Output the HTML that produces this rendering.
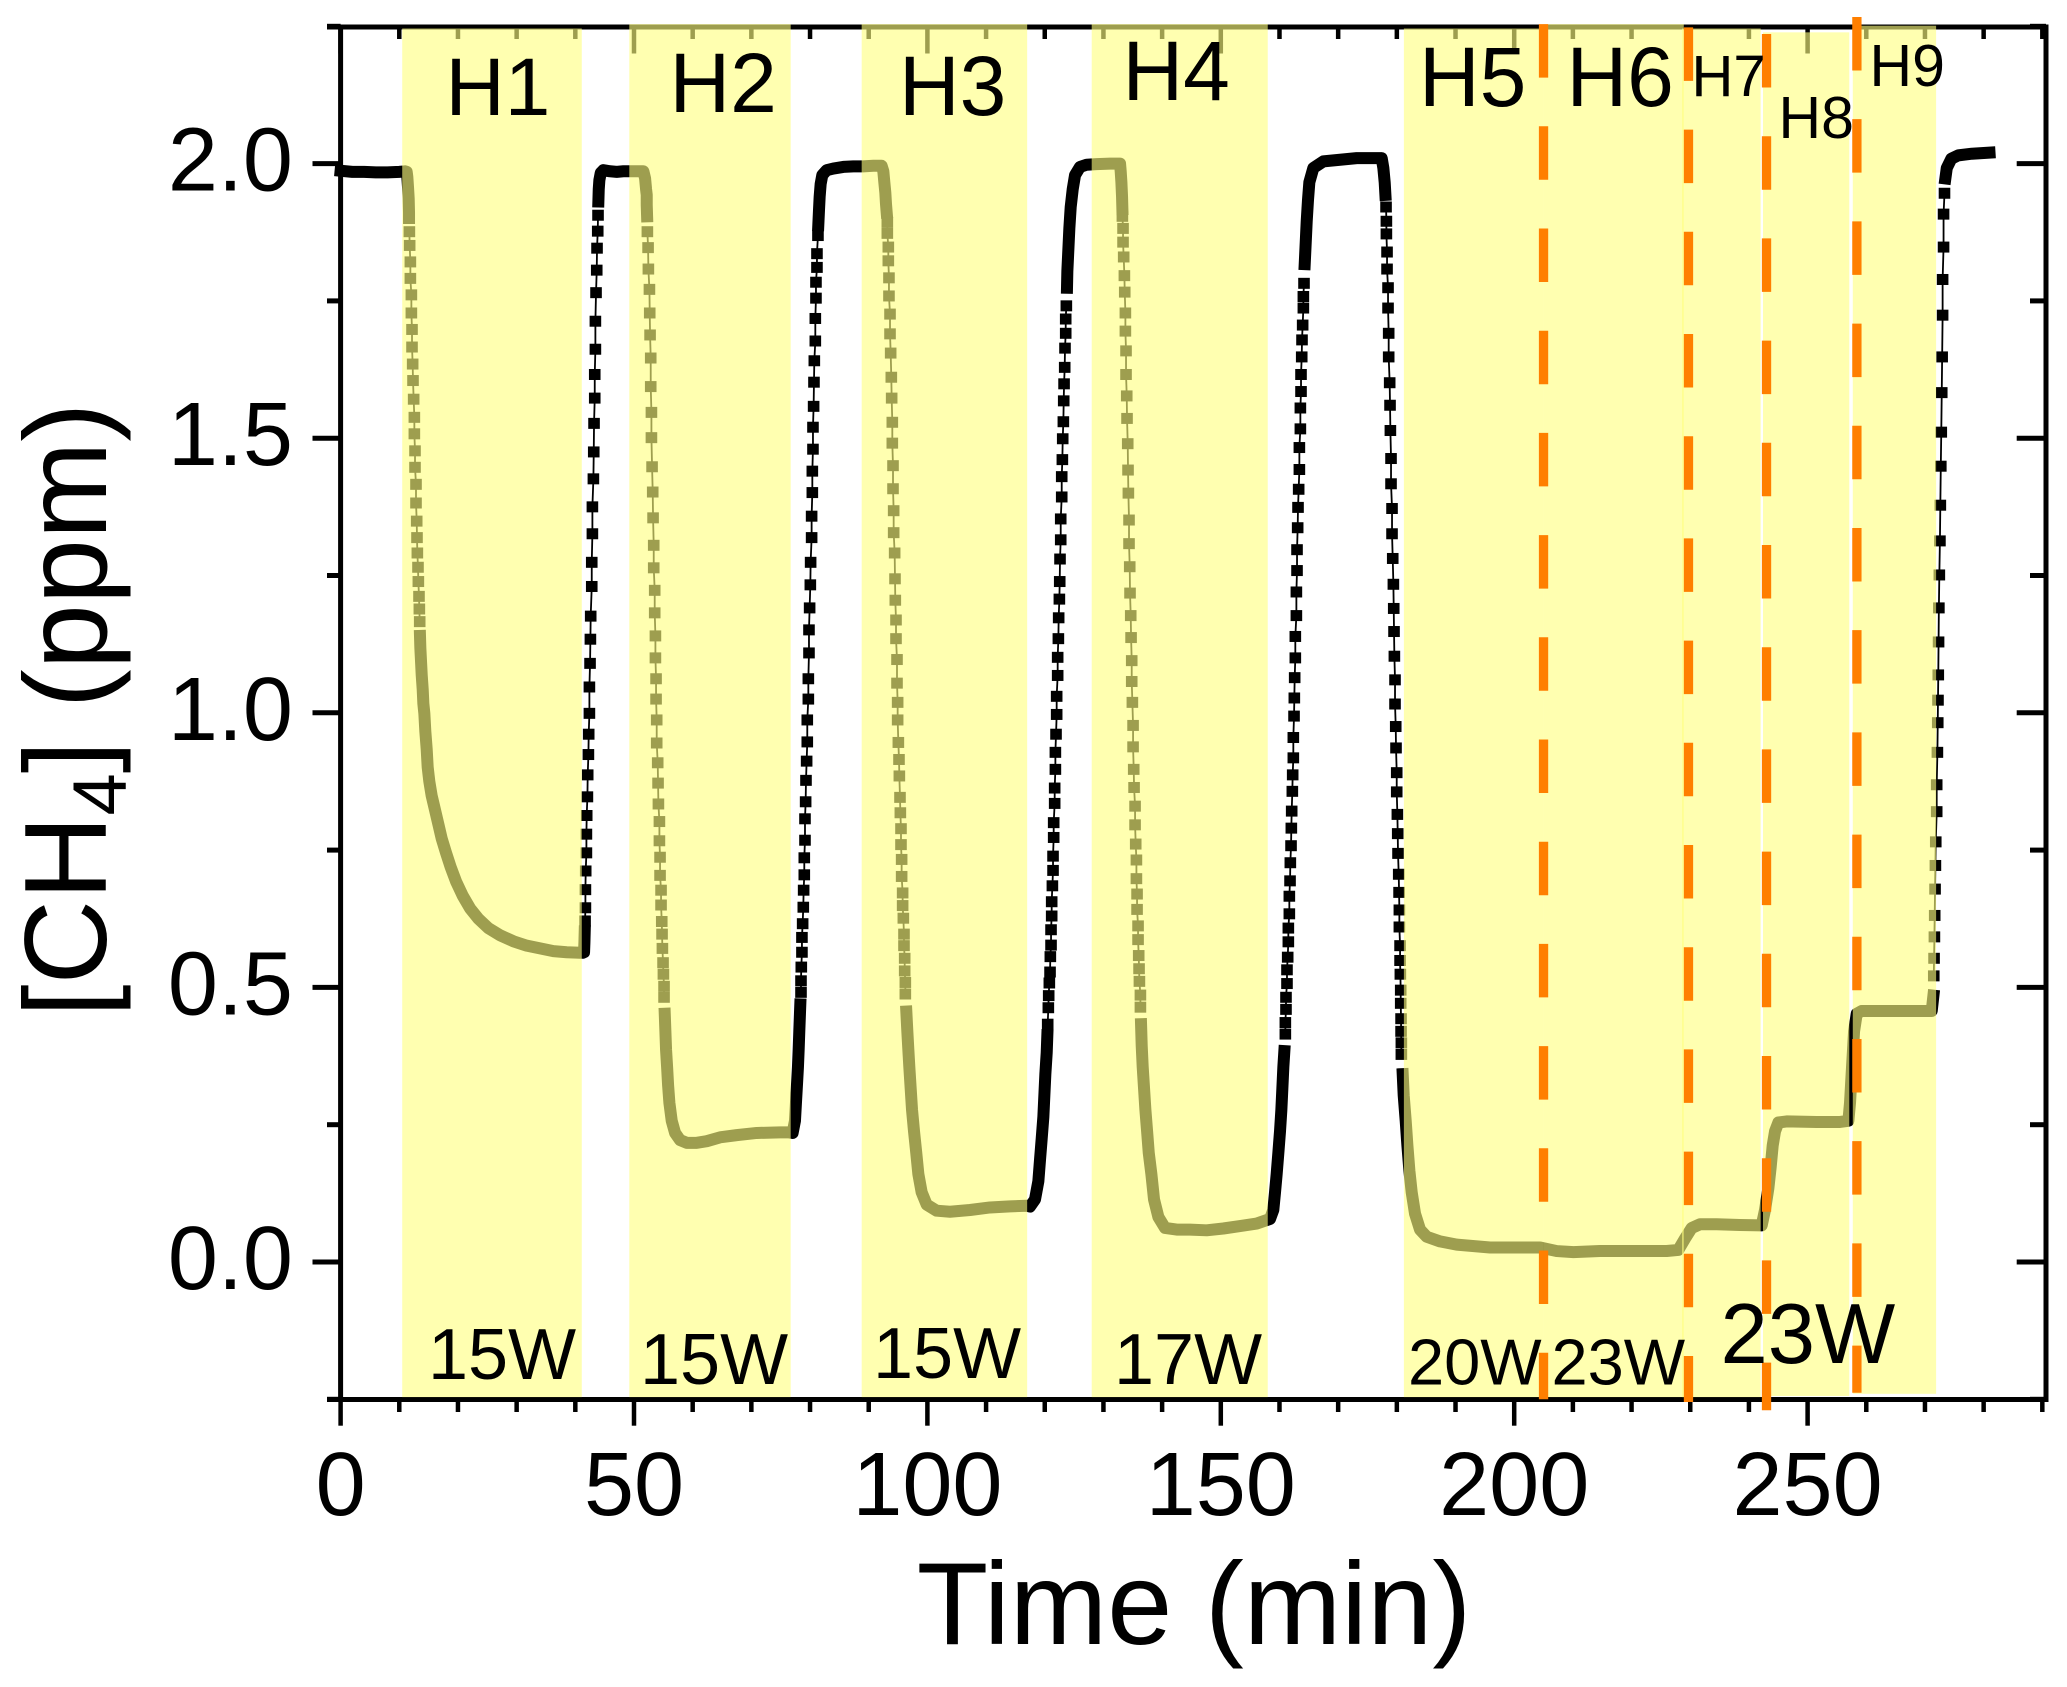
<!DOCTYPE html>
<html lang="en">
<head>
<meta charset="utf-8">
<title>Methane concentration versus time</title>
<style>
html,body{margin:0;padding:0;background:#fff;width:2067px;height:1687px;overflow:hidden}
svg{display:block}
text{font-family:"Liberation Sans",Arial,sans-serif;fill:#000}
</style>
</head>
<body>
<svg id="chart" xmlns="http://www.w3.org/2000/svg" width="2067" height="1687" viewBox="0 0 2067 1687">
  <rect x="0" y="0" width="2067" height="1687" fill="#fff"/>
  <g id="axes"></g>
  <g id="series"></g>
  <g id="bands"></g>
  <g id="dividers"></g>
  <g id="ticklabels"></g>

  <text x="1194" y="1644" font-size="117" text-anchor="middle">Time (min)</text>
  <text transform="translate(106,1017) rotate(-90)" font-size="117">[CH<tspan font-size="76" dy="20">4</tspan><tspan dy="-20">] (ppm)</tspan></text>

  <g>
    <text x="445.5" y="115" font-size="82">H1</text>
    <text x="669.5" y="112" font-size="84">H2</text>
    <text x="899" y="115" font-size="84">H3</text>
    <text x="1122.5" y="100" font-size="84">H4</text>
    <text x="1419" y="106" font-size="84">H5</text>
    <text x="1566.5" y="106" font-size="84">H6</text>
    <text x="1691.5" y="96" font-size="58">H7</text>
    <text x="1778.5" y="138" font-size="59">H8</text>
    <text x="1869.5" y="86" font-size="59">H9</text>
  </g>
  <g>
    <text x="428" y="1379" font-size="72">15W</text>
    <text x="640" y="1384" font-size="72">15W</text>
    <text x="873" y="1378" font-size="72">15W</text>
    <text x="1114" y="1384" font-size="72">17W</text>
    <text x="1408" y="1384.5" font-size="65">20W</text>
    <text x="1551.5" y="1384.5" font-size="65">23W</text>
    <text x="1720.5" y="1363" font-size="85">23W</text>
  </g>
</svg>
<script>
// ---- tick values ----
const xMajorTicks = [0, 50, 100, 150, 200, 250];
const xMinorTicks = [10, 20, 30, 40, 60, 70, 80, 90, 110, 120, 130, 140, 160, 170, 180, 190, 210, 220, 230, 240, 260, 270, 280, 290];
const yMajorTicks = [0, 0.5, 1, 1.5, 2];
const yMinorTicks = [-0.25, 0.25, 0.75, 1.25, 1.75, 2.25];
const xTickLabels = ['0', '50', '100', '150', '200', '250'];
const yTickLabels = ['0.0', '0.5', '1.0', '1.5', '2.0'];

// ---- measured series, [time min, CH4 ppm] ----
// "band" runs: samples so close that the markers merge into a solid stroke
// "dots" runs: samples whose square markers are separately visible
const band0 = [[0,1.987],[2,1.985],[4,1.985],[6,1.984],[8,1.984],[10,1.985],[10.98,1.986],[11.26,1.985],[11.37,1.976],[11.49,1.957],[11.6,1.937],[11.66,1.911],[11.66,1.901]];
const dots0 = [[11.72,1.876],[11.77,1.851],[11.89,1.821],[11.89,1.791],[12.06,1.761],[12.06,1.728],[12.17,1.698],[12.17,1.666],[12.28,1.635],[12.34,1.605],[12.45,1.571],[12.57,1.538],[12.57,1.508],[12.68,1.477],[12.68,1.447],[12.85,1.416],[12.85,1.382],[12.97,1.349],[13.02,1.319],[13.08,1.291],[13.19,1.265],[13.25,1.239],[13.36,1.212],[13.42,1.189],[13.48,1.166]];
const band1 = [[13.53,1.14],[13.59,1.118],[13.7,1.095],[13.82,1.069],[13.99,1.043],[14.1,1.017],[14.27,0.999],[14.44,0.966],[14.67,0.934],[14.84,0.901],[15.12,0.875],[15.52,0.849],[16.09,0.823],[16.66,0.797],[17.23,0.771],[17.97,0.745],[18.76,0.719],[19.67,0.693],[20.81,0.667],[22.06,0.644],[23.48,0.625],[25.18,0.608],[27.17,0.595],[29.44,0.584],[31.72,0.576],[33.99,0.571],[36.26,0.566],[38.53,0.564],[40.8,0.563],[41.26,0.563],[41.49,0.564],[41.55,0.582],[41.6,0.602]];
const dots1 = [[41.66,0.621],[41.72,0.645],[41.72,0.678],[41.77,0.712],[41.89,0.745],[41.89,0.779],[41.94,0.813],[42.06,0.847],[42.11,0.887],[42.23,0.924],[42.28,0.961],[42.4,0.999],[42.4,1.047],[42.51,1.09],[42.57,1.134],[42.62,1.176],[42.8,1.23],[42.8,1.274],[42.91,1.326],[42.91,1.375],[43.08,1.426],[43.14,1.475],[43.19,1.527],[43.31,1.573],[43.31,1.616],[43.42,1.662],[43.42,1.713],[43.53,1.765],[43.65,1.806],[43.7,1.846],[43.82,1.877],[43.87,1.906]];
const band2 = [[43.93,1.931],[43.99,1.953],[44.1,1.97],[44.33,1.983],[44.78,1.988],[45.92,1.986],[47.06,1.985],[48.19,1.986],[49.9,1.986],[51.6,1.986],[51.89,1.973],[52.06,1.953],[52.17,1.943],[52.17,1.925],[52.23,1.904]];
const dots2 = [[52.28,1.876],[52.4,1.847],[52.45,1.808],[52.63,1.771],[52.68,1.728],[52.74,1.688],[52.85,1.646],[52.85,1.594],[52.97,1.547],[52.97,1.501],[53.08,1.448],[53.19,1.402],[53.25,1.355],[53.36,1.305],[53.36,1.264],[53.53,1.223],[53.53,1.182],[53.65,1.14],[53.65,1.1],[53.76,1.062],[53.76,1.025],[53.87,0.987],[53.87,0.945],[54.04,0.909],[54.1,0.872],[54.16,0.834],[54.33,0.802],[54.33,0.767],[54.44,0.737],[54.44,0.704],[54.61,0.677],[54.61,0.65],[54.73,0.62],[54.78,0.597],[54.84,0.571],[54.95,0.545],[55.01,0.524],[55.12,0.502],[55.12,0.482]];
const band3 = [[55.24,0.452],[55.35,0.42],[55.46,0.387],[55.64,0.355],[55.81,0.322],[56.03,0.29],[56.43,0.257],[57,0.235],[57.85,0.222],[58.99,0.217],[60.69,0.217],[62.4,0.22],[64.67,0.227],[67.51,0.231],[70.92,0.235],[74.9,0.236],[76.43,0.236],[77.03,0.235],[77.43,0.257],[77.6,0.29],[77.77,0.322],[77.94,0.355],[78.06,0.387],[78.17,0.42],[78.28,0.452],[78.34,0.469]];
const dots3 = [[78.46,0.491],[78.46,0.512],[78.51,0.537],[78.62,0.564],[78.62,0.591],[78.74,0.616],[78.85,0.646],[78.91,0.677],[79.02,0.705],[79.02,0.736],[79.14,0.768],[79.14,0.807],[79.25,0.838],[79.31,0.877],[79.42,0.912],[79.53,0.947],[79.53,0.987],[79.71,1.025],[79.71,1.062],[79.82,1.109],[79.82,1.151],[79.93,1.191],[80.05,1.233],[80.1,1.274],[80.27,1.319],[80.27,1.358],[80.39,1.401],[80.39,1.44],[80.5,1.48],[80.5,1.52],[80.61,1.558],[80.67,1.602],[80.73,1.641],[80.9,1.677],[80.9,1.718],[81.01,1.755],[81.01,1.784],[81.18,1.811],[81.18,1.836],[81.35,1.869]];
const band4 = [[81.41,1.888],[81.52,1.914],[81.64,1.94],[81.81,1.963],[82.09,1.979],[82.83,1.988],[83.97,1.991],[85.67,1.994],[87.38,1.995],[89.08,1.995],[90.78,1.996],[92.2,1.996],[92.49,1.986],[92.66,1.966],[92.83,1.947],[92.94,1.927],[93.06,1.911]];
const dots4 = [[93.17,1.893],[93.17,1.873],[93.34,1.848],[93.34,1.823],[93.45,1.792],[93.45,1.759],[93.63,1.726],[93.63,1.69],[93.74,1.655],[93.85,1.611],[93.91,1.573],[94.02,1.529],[94.02,1.491],[94.14,1.45],[94.14,1.408],[94.25,1.368],[94.25,1.328],[94.42,1.291],[94.48,1.244],[94.53,1.205],[94.65,1.169],[94.65,1.135],[94.82,1.097],[94.82,1.054],[94.93,1.019],[94.93,0.987],[95.05,0.946],[95.16,0.915],[95.22,0.885],[95.33,0.846],[95.39,0.818],[95.5,0.789],[95.5,0.76],[95.61,0.733],[95.61,0.702],[95.78,0.672],[95.78,0.649],[95.9,0.626],[96.01,0.597],[96.01,0.576],[96.13,0.553],[96.13,0.53],[96.24,0.509],[96.24,0.488]];
const band5 = [[96.41,0.456],[96.58,0.42],[96.75,0.387],[96.92,0.355],[97.15,0.316],[97.38,0.277],[97.72,0.238],[98.1,0.199],[98.46,0.16],[99.02,0.127],[99.88,0.1045],[101.58,0.0934],[103.85,0.0915],[107.26,0.0947],[110.67,0.0993],[114.08,0.1012],[116.92,0.1025],[117.49,0.101],[118.34,0.114],[118.91,0.147],[119.19,0.186],[119.48,0.225],[119.76,0.264],[119.93,0.303],[120.1,0.342],[120.33,0.381],[120.44,0.413]];
const dots5 = [[120.5,0.433],[120.61,0.463],[120.67,0.485],[120.78,0.508],[120.9,0.528],[120.95,0.556],[121.07,0.577],[121.07,0.605],[121.18,0.63],[121.18,0.656],[121.3,0.685],[121.41,0.713],[121.41,0.739],[121.52,0.773],[121.52,0.8],[121.69,0.835],[121.69,0.863],[121.81,0.897],[121.81,0.928],[121.92,0.961],[122.03,0.997],[122.03,1.03],[122.2,1.068],[122.2,1.101],[122.32,1.135],[122.37,1.173],[122.49,1.207],[122.55,1.239],[122.6,1.28],[122.72,1.315],[122.72,1.353],[122.89,1.393],[122.89,1.43],[123,1.461],[123.06,1.499],[123.17,1.53],[123.23,1.568],[123.29,1.599],[123.4,1.629],[123.45,1.664],[123.57,1.691],[123.57,1.717],[123.68,1.741]];
const band6 = [[123.79,1.774],[123.85,1.804],[124.02,1.843],[124.19,1.882],[124.42,1.921],[124.76,1.953],[125.16,1.979],[126.01,1.994],[127.15,1.998],[128.85,1.999],[131.13,2],[132.83,2],[132.94,1.986],[133.06,1.966],[133.17,1.94],[133.23,1.917]];
const dots6 = [[133.23,1.904],[133.34,1.882],[133.34,1.857],[133.45,1.83],[133.57,1.796],[133.63,1.766],[133.74,1.728],[133.74,1.695],[133.85,1.659],[133.85,1.616],[133.97,1.577],[134.02,1.536],[134.14,1.49],[134.19,1.442],[134.25,1.4],[134.36,1.351],[134.36,1.308],[134.48,1.266],[134.53,1.218],[134.65,1.177],[134.71,1.137],[134.82,1.095],[134.82,1.057],[134.93,1.019],[135.05,0.977],[135.05,0.938],[135.16,0.897],[135.22,0.864],[135.39,0.83],[135.39,0.796],[135.5,0.761],[135.62,0.732],[135.62,0.698],[135.73,0.67],[135.73,0.642],[135.9,0.612],[135.9,0.587],[136.01,0.558],[136.07,0.534],[136.13,0.511],[136.3,0.486],[136.3,0.464]];
const band7 = [[136.41,0.433],[136.52,0.394],[136.69,0.355],[136.92,0.316],[137.15,0.277],[137.44,0.238],[137.72,0.199],[138.17,0.16],[138.62,0.114],[139.36,0.082],[140.5,0.062],[142.49,0.059],[144.76,0.059],[147.59,0.0577],[150.43,0.061],[153.27,0.0654],[156.11,0.07],[157.53,0.0752],[158.39,0.0784],[158.95,0.0947],[159.24,0.127],[159.52,0.16],[159.81,0.199],[160.09,0.238],[160.32,0.277],[160.49,0.316],[160.66,0.355],[160.83,0.384]];
const dots7 = [[161,0.415],[161,0.436],[161.11,0.46],[161.11,0.482],[161.28,0.507],[161.28,0.532],[161.4,0.555],[161.51,0.583],[161.51,0.608],[161.68,0.634],[161.68,0.666],[161.8,0.694],[161.85,0.727],[161.97,0.758],[162.02,0.79],[162.08,0.821],[162.19,0.857],[162.25,0.887],[162.36,0.918],[162.36,0.955],[162.48,0.994],[162.53,1.027],[162.59,1.064],[162.7,1.1],[162.7,1.139],[162.88,1.177],[162.88,1.22],[162.99,1.259],[162.99,1.297],[163.1,1.337],[163.16,1.374],[163.27,1.407],[163.39,1.443],[163.39,1.483],[163.56,1.517],[163.56,1.555],[163.67,1.585],[163.67,1.616],[163.79,1.648],[163.84,1.679],[163.95,1.706],[164.07,1.737],[164.07,1.758],[164.18,1.782]];
const band8 = [[164.3,1.817],[164.47,1.856],[164.64,1.895],[164.86,1.934],[165.09,1.966],[165.77,1.992],[167.48,2.004],[170.32,2.007],[173.16,2.01],[176,2.01],[177.42,2.01],[177.7,1.992],[177.93,1.966],[178.05,1.943]];
const dots8 = [[178.16,1.921],[178.22,1.895],[178.22,1.872],[178.33,1.839],[178.33,1.808],[178.5,1.774],[178.5,1.737],[178.61,1.691],[178.61,1.648],[178.78,1.601],[178.84,1.56],[178.9,1.514],[179.01,1.463],[179.01,1.417],[179.18,1.372],[179.18,1.326],[179.3,1.281],[179.41,1.234],[179.47,1.19],[179.52,1.148],[179.58,1.103],[179.69,1.06],[179.69,1.016],[179.81,0.975],[179.86,0.936],[179.98,0.891],[179.98,0.856],[180.09,0.815],[180.15,0.78],[180.2,0.744],[180.32,0.706],[180.38,0.673],[180.43,0.641],[180.43,0.61],[180.55,0.576],[180.55,0.549],[180.6,0.524],[180.66,0.495],[180.66,0.471],[180.72,0.443],[180.72,0.42],[180.77,0.399],[180.77,0.378]];
const band9 = [[181,0.342],[181.17,0.303],[181.51,0.257],[181.8,0.212],[182.14,0.166],[182.53,0.127],[183.1,0.088],[183.95,0.059],[185.09,0.046],[187.36,0.0375],[190.2,0.0316],[195.88,0.0264],[201.57,0.0264],[204.41,0.0264],[207.25,0.0199],[210.09,0.018],[214.62,0.02],[220.3,0.02],[225.98,0.02],[227.97,0.022],[229.11,0.0427],[230.25,0.062],[231.67,0.0687],[234.51,0.0687],[238.48,0.0674],[242.18,0.0667],[242.74,0.0947],[243.31,0.134],[243.71,0.173],[244.05,0.212],[244.45,0.238],[245.02,0.254],[246.44,0.256],[251.55,0.255],[255.53,0.255],[256.95,0.257],[257.23,0.29],[257.57,0.355],[257.92,0.42],[258.37,0.452],[259.22,0.457],[262.92,0.457],[266.89,0.457],[270.59,0.457],[271.15,0.457],[271.44,0.485]];
const dots9 = [[271.5,0.521],[271.55,0.553],[271.61,0.592],[271.66,0.631],[271.72,0.679],[271.78,0.722],[271.84,0.765],[272,0.82],[272,0.869],[272.12,0.928],[272.18,0.982],[272.22,1.023],[272.27,1.069],[272.32,1.129],[272.37,1.191],[272.45,1.251],[272.55,1.313],[272.62,1.378],[272.7,1.449],[272.78,1.511],[272.86,1.583],[272.93,1.648],[273.01,1.724],[273.01,1.789],[273.17,1.848],[273.17,1.908],[273.33,1.946]];
const band10 = [[273.48,1.973],[273.72,1.992],[274.5,2.009],[275.67,2.015],[278,2.018],[281,2.02]];

const bandRuns = [band0, band1, band2, band3, band4, band5, band6, band7, band8, band9, band10];
const dotRuns = [dots0, dots1, dots2, dots3, dots4, dots5, dots6, dots7, dots8, dots9];

// ---- heating windows: names and their start / end times (min) ----
const bandNames = ['h1', 'h2', 'h3', 'h4', 'h5', 'h6', 'h7', 'h8', 'h9'];
const bandStart = [10.5, 49.2, 88.8, 128, 181.2, 205, 228.6, 242.4, 257.7];
const bandEnd = [41.1, 76.7, 117, 158, 205, 228.9, 242, 257.1, 271.9];
const bandTopPpm = [2.246, 2.254, 2.254, 2.254, 2.246, 2.254, 2.246, 2.239, 2.251];
const bandBottomPpm = [-0.246, -0.246, -0.246, -0.246, -0.246, -0.246, -0.246, -0.244, -0.24];

// ---- orange dividers: time (min), top and bottom (ppm) ----
const dividerTimes = [205, 229.7, 243, 258.4];
const dividerTopPpm = [2.254, 2.248, 2.236, 2.267];
const dividerBottomPpm = [-0.25, -0.255, -0.27, -0.238];

// ---- axis functions ----
const SVGNS = 'http://www.w3.org/2000/svg';
function xAt(t) { return 340.6 + t * 5.868; }
function yAt(v) { return 1262 - v * 549.2; }
function mk(tag, attrs, parent) {
  const node = document.createElementNS(SVGNS, tag);
  Object.keys(attrs).forEach(function (k) { node.setAttribute(k, attrs[k]); });
  parent.appendChild(node);
  return node;
}

const axesG = document.getElementById('axes');
const seriesG = document.getElementById('series');
const bandsG = document.getElementById('bands');
const dividersG = document.getElementById('dividers');
const labelsG = document.getElementById('ticklabels');

const AXIS_LEFT = 340.6, AXIS_RIGHT = 2046, AXIS_TOP = 27, AXIS_BOTTOM = 1399.5;

// axis frame
[[AXIS_LEFT, AXIS_TOP, AXIS_LEFT, AXIS_BOTTOM, 'y-axis-left'],
 [AXIS_RIGHT, AXIS_TOP - 2.5, AXIS_RIGHT, AXIS_BOTTOM + 2.5, 'y-axis-right'],
 [327, AXIS_TOP, AXIS_RIGHT + 2, AXIS_TOP, 'x-axis-top'],
 [327, AXIS_BOTTOM, AXIS_RIGHT + 2, AXIS_BOTTOM, 'x-axis-bottom']].forEach(function (s) {
  const el = mk('line', {x1: s[0], y1: s[1], x2: s[2], y2: s[3], stroke: '#000', 'stroke-width': 5}, axesG);
  
  
});

function tickX(t, major) {
  const x = xAt(t);
  const bottom = mk('line', {x1: x, y1: AXIS_BOTTOM, x2: x, y2: major ? 1425.7 : 1412, stroke: '#000', 'stroke-width': 4.5}, axesG);
  
  
  const top = mk('line', {x1: x, y1: AXIS_TOP, x2: x, y2: major ? 53.5 : 39, stroke: '#000', 'stroke-width': 4.5}, axesG);
  
  
}
function tickY(v, major) {
  const y = yAt(v);
  const left = mk('line', {x1: major ? 312.5 : 327, y1: y, x2: AXIS_LEFT, y2: y, stroke: '#000', 'stroke-width': 5}, axesG);
  
  
  const right = mk('line', {x1: major ? 2016.7 : 2030, y1: y, x2: AXIS_RIGHT, y2: y, stroke: '#000', 'stroke-width': 5}, axesG);
  
  
}
xMajorTicks.forEach(function (t) { tickX(t, true); });
xMinorTicks.forEach(function (t) { tickX(t, false); });
yMajorTicks.forEach(function (v) { tickY(v, true); });
yMinorTicks.forEach(function (v) { tickY(v, false); });

xMajorTicks.forEach(function (t, i) {
  const el = mk('text', {x: xAt(t), y: 1515, 'font-size': 90, 'text-anchor': 'middle'}, labelsG);
  el.textContent = xTickLabels[i];
  
  
});
yMajorTicks.forEach(function (v, i) {
  const el = mk('text', {x: 293, y: yAt(v) + 27, 'font-size': 90, 'text-anchor': 'end'}, labelsG);
  el.textContent = yTickLabels[i];
  
  
});

// series: thin connecting line through every sample
dotRuns.forEach(function (run) {
  const pts = run.map(function (p) { return xAt(p[0]).toFixed(2) + ',' + yAt(p[1]).toFixed(2); }).join(' ');
  const el = mk('polyline', {points: pts, fill: 'none', stroke: '#000', 'stroke-width': 1.8}, seriesG);
  
  
});
// merged-marker runs
bandRuns.forEach(function (run) {
  const pts = run.map(function (p) { return xAt(p[0]).toFixed(2) + ',' + yAt(p[1]).toFixed(2); }).join(' ');
  const el = mk('polyline', {points: pts, fill: 'none', stroke: '#000', 'stroke-width': 12, 'stroke-linejoin': 'round', 'stroke-linecap': 'square'}, seriesG);
  
  
});
// separately visible square markers
dotRuns.forEach(function (run) {
  run.forEach(function (p) {
    const el = mk('rect', {x: xAt(p[0]) - 5.8, y: yAt(p[1]) - 5.5, width: 11.6, height: 11, fill: '#000'}, seriesG);
    
    
  });
});

// translucent yellow heating bands sit over the data
bandNames.forEach(function (name, i) {
  const x0 = xAt(bandStart[i]), x1 = xAt(bandEnd[i]);
  const y0 = yAt(bandTopPpm[i]), y1 = yAt(bandBottomPpm[i]);
  const el = mk('rect', {x: x0, y: y0, width: x1 - x0, height: y1 - y0, fill: 'rgb(255,255,128)', 'fill-opacity': 0.62}, bandsG);
  
  
});

// orange dashed dividers
dividerTimes.forEach(function (t, i) {
  const x = xAt(t);
  const el = mk('line', {x1: x, y1: yAt(dividerTopPpm[i]), x2: x, y2: yAt(dividerBottomPpm[i]), stroke: '#ff7f00', 'stroke-width': 9.3, 'stroke-dasharray': '53.5 48.7'}, dividersG);
  
  
});
</script>
</body>
</html>
